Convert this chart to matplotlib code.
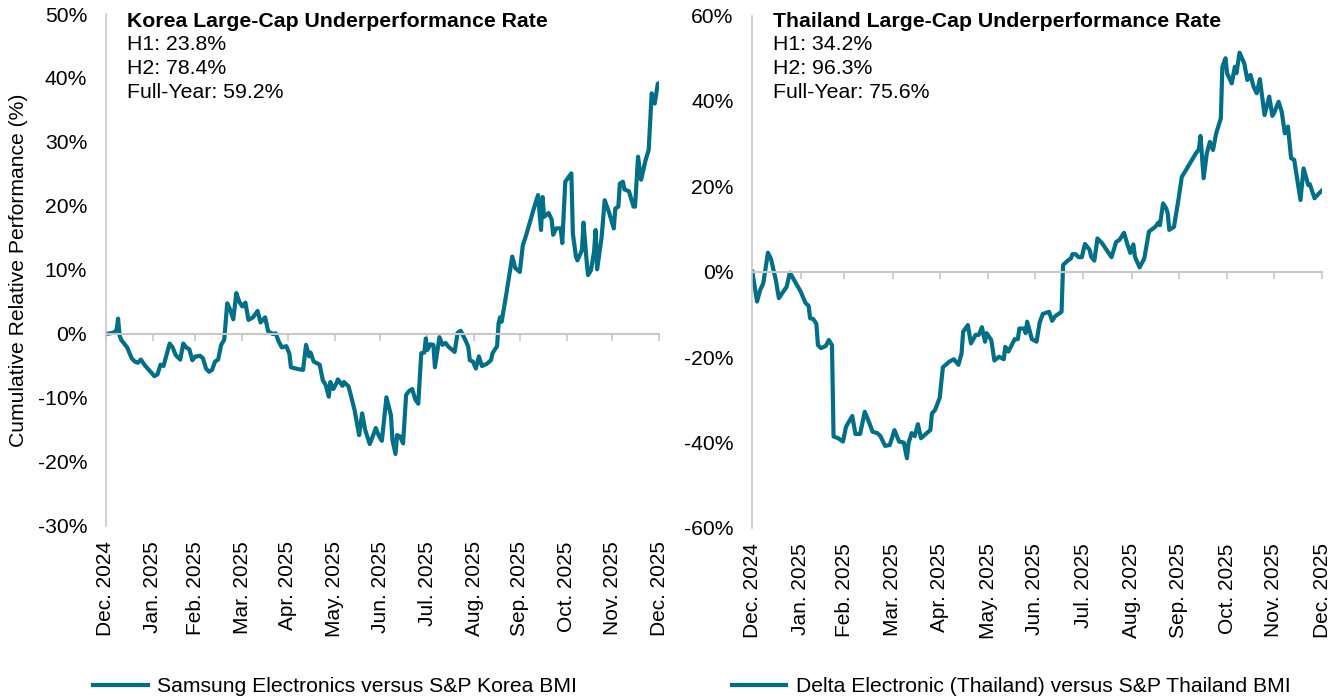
import matplotlib
matplotlib.use('Agg')
import matplotlib.pyplot as plt
import matplotlib.dates as mdates
import pandas as pd

plt.rcParams['font.family'] = ['Liberation Sans', 'DejaVu Sans']

# days since 2024-12-31, relative performance in %
kr_days = [0, 5, 7, 8, 9, 10, 14, 17, 19, 21, 23, 26, 29, 32, 34, 36, 38, 39, 42, 44,
           46, 49, 51, 53, 55, 57, 59, 60, 62, 64, 66, 68, 70, 72, 74, 76, 78, 80, 82, 84,
           86, 88, 90, 92, 94, 97, 100, 102, 105, 107, 110, 112, 114, 116, 119, 121, 122, 127, 130, 132,
           134, 135, 137, 141, 143, 145, 147, 148, 150, 152, 153, 156, 157, 160, 162, 164, 167, 169, 171, 174,
           176, 178, 180, 182, 185, 188, 189, 191, 192, 194, 196, 198, 200, 202, 204, 206, 208, 210, 211, 212,
           214, 216, 217, 220, 222, 224, 226, 230, 232, 234, 237, 239, 240, 242, 244, 246, 248, 251, 254, 255,
           258, 259, 260, 261, 264, 268, 270, 273, 275, 277, 282, 285, 287, 288, 289, 292, 294, 295, 297, 300,
           301, 303, 307, 308, 310, 311, 314, 315, 317, 318, 320, 322, 323, 324, 327, 329, 332, 335, 336, 338,
           339, 341, 342, 345, 348, 349, 351, 353, 356, 358, 360, 362, 364, 365]
kr_vals = [0.0, 0.2, 0.6, 2.4, -0.2, -0.9, -2.1, -3.8, -4.3, -4.5, -4.0, -5.0, -5.8, -6.6, -6.3, -4.8, -5.0, -4.1, -1.5, -2.1,
           -3.3, -4.0, -1.5, -2.1, -2.4, -4.1, -3.5, -3.5, -3.4, -3.8, -5.4, -5.9, -5.6, -4.3, -4.0, -1.7, -0.9, 4.8, 3.75, 2.3,
           6.4, 5.0, 4.3, 4.9, 2.2, 2.6, 3.6, 1.8, 2.6, 0.4, 0.0, 0.1, -1.2, -2.1, -1.9, -3.1, -5.2, -5.5, -5.6, -1.7,
           -3.5, -2.9, -4.3, -4.8, -7.2, -8.0, -9.8, -7.5, -8.6, -7.7, -7.1, -8.1, -7.5, -8.2, -10.0, -11.9, -15.8, -12.4, -15.0, -17.2,
           -16.0, -14.7, -15.9, -16.7, -9.9, -12.7, -16.6, -18.75, -15.8, -16.0, -17.1, -9.5, -8.9, -8.6, -10.2, -10.9, -3.0, -2.9, -0.7, -2.5,
           -1.6, -1.7, -5.2, -0.5, -1.7, -1.4, -2.0, -2.8, 0.2, 0.5, -0.9, -2.0, -4.1, -4.3, -5.4, -3.5, -5.0, -4.7, -4.1, -3.0,
           -1.9, 1.7, 2.6, 1.9, 6.1, 12.1, 10.3, 9.7, 13.9, 15.3, 19.4, 21.7, 16.25, 21.4, 18.3, 18.9, 17.9, 15.5, 16.5, 16.5,
           14.2, 23.8, 25.1, 15.7, 12.1, 11.5, 13.1, 17.4, 11.6, 9.2, 10.0, 12.9, 16.25, 10.1, 15.2, 20.9, 18.9, 16.5, 19.6, 19.9,
           23.5, 23.8, 22.6, 22.3, 19.9, 19.9, 27.7, 24.1, 27.2, 28.75, 37.6, 36.0, 39.1, 39.2]

th_days = [0, 3, 5, 7, 10, 12, 15, 17, 19, 22, 24, 26, 31, 34, 36, 37, 39, 41, 42, 44,
           47, 49, 51, 52, 55, 58, 60, 64, 66, 69, 72, 75, 77, 80, 82, 85, 88, 91, 94, 97,
           99, 100, 102, 104, 106, 108, 112, 114, 115, 117, 120, 122, 126, 129, 132, 134, 135, 138, 140, 143,
           145, 147, 149, 150, 153, 155, 158, 161, 162, 164, 168, 170, 171, 174, 175, 176, 179, 182, 184, 186,
           190, 192, 194, 198, 199, 202, 204, 205, 207, 209, 211, 213, 216, 217, 219, 221, 224, 230, 233, 235,
           238, 240, 242, 244, 245, 248, 251, 254, 258, 260, 261, 263, 265, 266, 267, 270, 273, 275, 278, 284,
           286, 287, 289, 291, 293, 295, 297, 300, 301, 303, 304, 307, 309, 310, 312, 315, 317, 319, 321, 323,
           325, 328, 331, 333, 334, 337, 339, 341, 343, 345, 347, 351, 353, 356, 357, 360, 363, 365]
th_vals = [0.0, -7.0, -4.3, -2.7, 4.45, 2.9, -1.9, -6.2, -5.1, -3.5, -0.2, -1.5, -4.7, -7.3, -8.0, -10.9, -11.1, -12.2, -17.2, -17.9,
           -17.4, -16.0, -17.2, -38.6, -39.0, -39.8, -36.3, -33.8, -38.0, -38.0, -32.8, -35.5, -37.5, -37.8, -38.5, -40.8, -40.6, -37.1, -39.8, -40.0,
           -43.7, -40.2, -37.8, -38.5, -35.7, -39.0, -37.7, -37.1, -33.2, -32.4, -29.5, -22.4, -21.1, -20.5, -21.8, -19.1, -14.05, -12.5, -16.8, -14.8,
           -14.8, -13.0, -16.4, -14.4, -16.0, -20.8, -19.9, -20.5, -17.6, -18.7, -15.8, -15.8, -13.3, -13.3, -14.4, -11.7, -15.8, -16.4, -11.9, -9.9,
           -9.4, -11.5, -10.4, -9.4, 1.6, 2.6, 3.1, 4.1, 4.1, 3.4, 3.4, 6.5, 5.1, 3.5, 2.6, 7.8, 6.65, 3.4, 7.0, 7.4,
           9.1, 6.65, 4.4, 6.4, 3.5, 1.0, 3.1, 9.4, 10.5, 11.5, 10.9, 16.0, 14.85, 13.7, 9.8, 10.5, 17.2, 22.2, 24.0, 27.7,
           28.7, 31.8, 21.9, 27.7, 30.4, 28.5, 32.4, 35.9, 48.0, 50.0, 46.5, 44.1, 48.0, 46.5, 51.3, 48.8, 44.9, 46.1, 43.3, 41.8,
           45.1, 36.7, 41.0, 36.5, 37.1, 39.8, 37.5, 32.4, 34.0, 26.6, 26.2, 16.8, 24.2, 20.3, 20.5, 17.2, 18.4, 19.1]

month_ends = ['2024-12-31', '2025-01-31', '2025-02-28', '2025-03-31', '2025-04-30', '2025-05-31', '2025-06-30',
              '2025-07-31', '2025-08-31', '2025-09-30', '2025-10-31', '2025-11-30', '2025-12-31']
month_labels = ['Dec. 2024', 'Jan. 2025', 'Feb. 2025', 'Mar. 2025', 'Apr. 2025', 'May. 2025', 'Jun. 2025',
                'Jul. 2025', 'Aug. 2025', 'Sep. 2025', 'Oct. 2025', 'Nov. 2025', 'Dec. 2025']

start = pd.Timestamp('2024-12-31')
LINE = '#006f87'
GRAY = '#c8c8c8'
FS = 15.2

panels = [
    dict(days=kr_days, vals=kr_vals, ylim=(-30, 50), step=10,
         rect=[0.0789, 0.2486, 0.412, 0.7314],
         title='Korea Large-Cap Underperformance Rate',
         stats='H1: 23.8%\nH2: 78.4%\nFull-Year: 59.2%',
         label='Samsung Electronics versus S&P Korea BMI', leg_x=0.2494, txt_x=0.0946),
    dict(days=th_days, vals=th_vals, ylim=(-60, 60), step=20,
         rect=[0.5602, 0.2459, 0.4244, 0.7319],
         title='Thailand Large-Cap Underperformance Rate',
         stats='H1: 34.2%\nH2: 96.3%\nFull-Year: 75.6%',
         label='Delta Electronic (Thailand) versus S&P Thailand BMI', leg_x=0.7528, txt_x=0.5756),
]

fig = plt.figure(figsize=(13.43, 7.0), dpi=100)
ticks = mdates.date2num(pd.to_datetime(month_ends))

for i, p in enumerate(panels):
    ax = fig.add_axes(p['rect'])
    x = mdates.date2num(start + pd.to_timedelta(p['days'], unit='D'))
    ax.plot(x, p['vals'], color=LINE, lw=3.0, solid_joinstyle='round', label=p['label'])
    ax.set_xlim(ticks[0], ticks[-1])
    lo, hi = p['ylim']
    ax.set_ylim(lo, hi)
    yt = list(range(lo, hi + 1, p['step']))
    ax.set_yticks(yt, [f'{v}%' for v in yt])
    ax.tick_params(axis='y', length=0, labelsize=FS, pad=13.5)

    for s in ['top', 'right']:
        ax.spines[s].set_visible(False)
    ax.spines['left'].set_color(GRAY)
    ax.spines['left'].set_linewidth(1.2)
    ax.spines['bottom'].set_position(('data', 0))
    ax.spines['bottom'].set_color(GRAY)
    ax.spines['bottom'].set_linewidth(1.5)
    ax.set_xticks(ticks)
    ax.tick_params(axis='x', direction='out', length=5, width=1.2, color=GRAY, labelbottom=False)

    # month labels sit under the plot, ticks stay on the zero line
    sec = ax.secondary_xaxis(0)
    sec.set_xticks(ticks, month_labels, rotation=90)
    sec.tick_params(length=0, labelsize=15, pad=11)
    sec.spines['bottom'].set_visible(False)

    if i == 0:
        ax.set_ylabel('Cumulative Relative Performance (%)', fontsize=FS, labelpad=7)

    fig.text(p['txt_x'], 0.983, p['title'], fontsize=15.3, fontweight='bold', va='top')
    fig.text(p['txt_x'], 0.950, p['stats'], fontsize=15.3, va='top', linespacing=1.32)

    ax.legend(loc='center', bbox_to_anchor=(p['leg_x'], 0.019), bbox_transform=fig.transFigure,
              frameon=False, fontsize=FS, handlelength=2.6, handletextpad=0.45)

fig.savefig('out.png', dpi=100)
